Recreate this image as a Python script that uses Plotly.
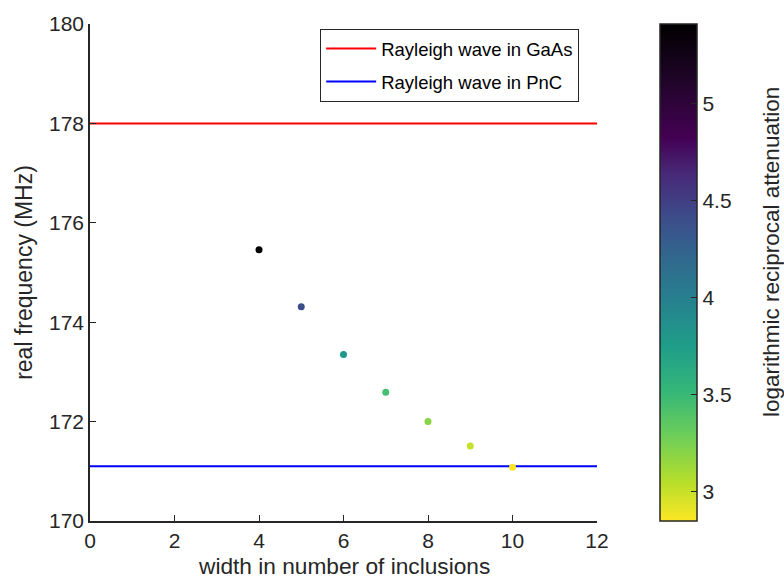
import plotly.graph_objects as go

widths = [4, 5, 6, 7, 8, 9, 10]
real_freq = [175.46, 174.31, 173.35, 172.59, 172.00, 171.51, 171.08]
log_recip_att = [5.41, 4.40, 3.80, 3.45, 3.20, 3.00, 2.85]

gaas_freq = 178.0
pnc_freq = 171.1
x_line = [0, 12]

x_ticks = [0, 2, 4, 6, 8, 10, 12]
y_ticks = [170, 172, 174, 176, 178, 180]
cb_ticks = [3, 3.5, 4, 4.5, 5]
cb_ticktext = ["3", "3.5", "4", "4.5", "5"]

colorscale = [
    [0.00, "#fde725"],
    [0.08, "#b5de2b"],
    [0.17, "#6ece58"],
    [0.26, "#35b779"],
    [0.35, "#1f9e89"],
    [0.44, "#26828e"],
    [0.53, "#31688e"],
    [0.62, "#3e4989"],
    [0.70, "#482878"],
    [0.77, "#440154"],
    [0.88, "#22052b"],
    [1.00, "#000000"],
]

font_family = "Liberation Sans, Arial, sans-serif"
txt = "#262626"
cmin, cmax = min(log_recip_att), max(log_recip_att)
cb_x = 1.124
cb_thick = 37
plot_w = 507
plot_h = 499

fig = go.Figure()

fig.add_trace(go.Scatter(
    x=x_line, y=[gaas_freq, gaas_freq], mode="lines", legendgroup="a",
    line=dict(color="#ff0000", width=2), name="Rayleigh wave in GaAs",
))
fig.add_trace(go.Scatter(
    x=x_line, y=[pnc_freq, pnc_freq], mode="lines", legendgroup="b",
    line=dict(color="#0000ff", width=2), name="Rayleigh wave in PnC",
))
fig.add_trace(go.Scatter(
    x=widths, y=real_freq, mode="markers", showlegend=False,
    marker=dict(
        size=7, color=log_recip_att, colorscale=colorscale,
        cmin=cmin, cmax=cmax,
        showscale=True,
        colorbar=dict(
            x=cb_x, xanchor="left", xref="paper",
            y=0.5, yanchor="middle", len=1.0, lenmode="fraction",
            thickness=cb_thick, outlinewidth=1.5, outlinecolor=txt,
            tickvals=cb_ticks, ticktext=cb_ticktext,
            ticks="inside", ticklen=6, tickcolor=txt,
            tickfont=dict(size=21, color=txt, family=font_family),
            ypad=0, xpad=0,
        ),
    ),
))

# left-side inward ticks of colorbar (MATLAB style)
for v in cb_ticks:
    yy = (v - cmin) / (cmax - cmin)
    fig.add_shape(type="line", xref="paper", yref="paper",
                  x0=cb_x, x1=cb_x + 6 / plot_w, y0=yy, y1=yy,
                  line=dict(color=txt, width=1))

fig.add_annotation(
    text="logarithmic reciprocal attenuation", xref="paper", yref="paper",
    x=cb_x + (771 - 660) / plot_w, y=0.541, xanchor="center", yanchor="middle",
    textangle=-90, showarrow=False,
    font=dict(size=22.5, color=txt, family=font_family),
)

fig.add_annotation(
    text="width in number of inclusions", xref="paper", yref="paper",
    x=0.5, y=-(566 - 521) / plot_h, xanchor="center", yanchor="middle",
    showarrow=False,
    font=dict(size=22.7, color=txt, family=font_family),
)

fig.update_layout(
    width=784, height=578,
    margin=dict(l=90, r=187, t=22, b=57),
    paper_bgcolor="white", plot_bgcolor="white",
    font=dict(family=font_family, color=txt),
    showlegend=True,
    legend=dict(
        x=0.454, y=0.99, xanchor="left", yanchor="top",
        bordercolor=txt, borderwidth=1, bgcolor="white",
        font=dict(size=18.5, color="#000000", family=font_family),
        itemwidth=50, tracegroupgap=6,
    ),
    xaxis=dict(
        range=[0, 12], tickvals=x_ticks, showgrid=False, zeroline=False,
        showline=True, linecolor=txt, linewidth=1.5,
        ticks="inside", ticklen=6, tickcolor=txt,
        tickfont=dict(size=21, color=txt), automargin=False,
    ),
    yaxis=dict(
        range=[170, 180], tickvals=y_ticks, showgrid=False, zeroline=False,
        showline=True, linecolor=txt, linewidth=1.5,
        ticks="inside", ticklen=6, tickcolor=txt,
        tickfont=dict(size=21, color=txt),
        title=dict(text="real frequency (MHz)", font=dict(size=23, color=txt), standoff=10),
    ),
)

fig.write_html("out.html", config={"displayModeBar": False},
               post_script="document.body.style.margin='0px';")
